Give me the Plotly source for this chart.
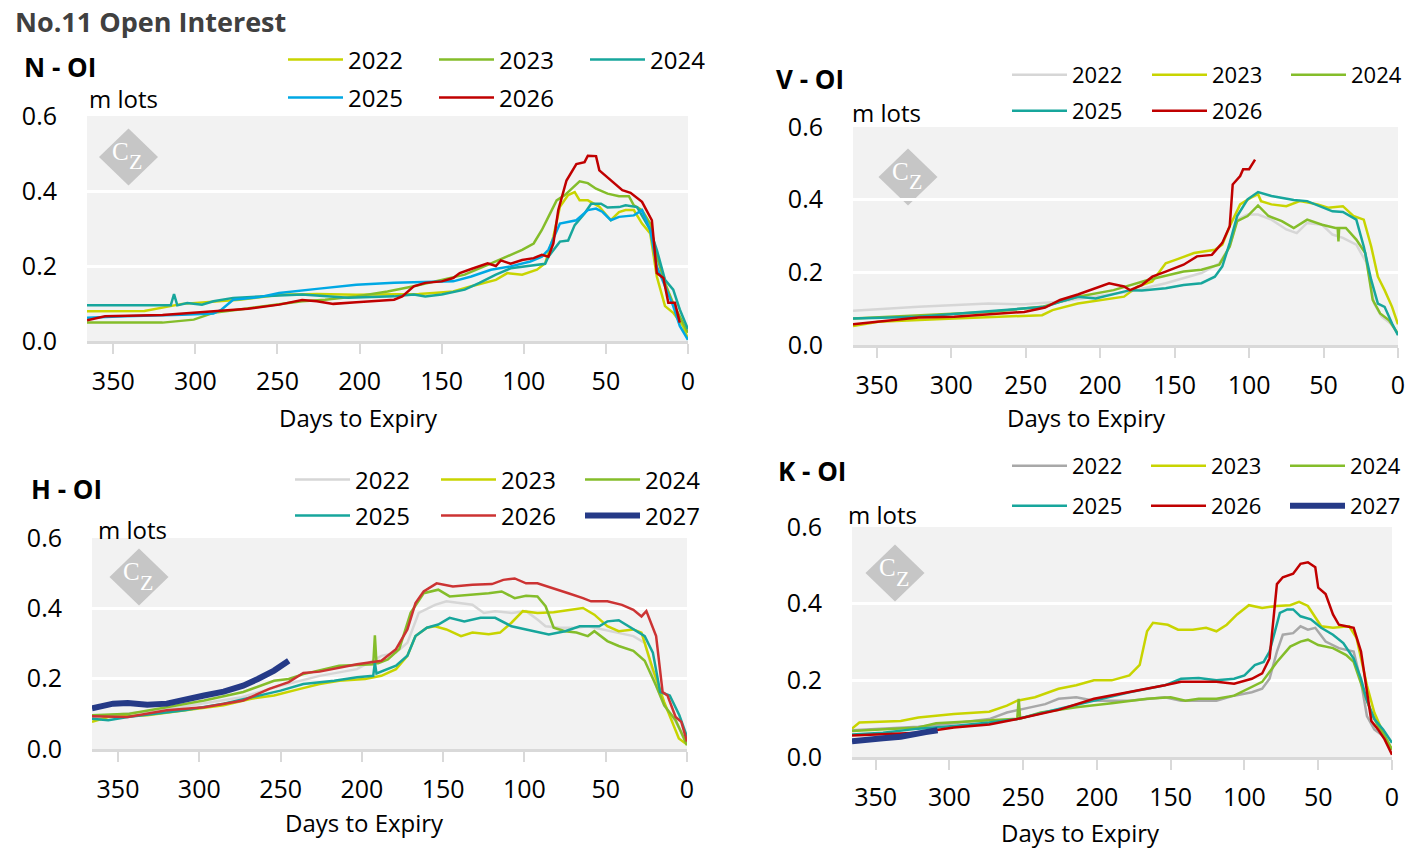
import plotly.graph_objects as go

# ---------------- data (days to expiry, open interest in m lots) ----------------
# N - OI
N_DAYS_2022 = [366, 331, 308, 296, 273, 249, 226, 202, 179, 164, 155, 143, 132, 117, 110, 101, 92, 87, 82, 78, 73, 69, 66, 61, 54, 47, 42, 38, 33, 28, 23, 19, 14, 9, 3, 0]
N_OI_2022 = [0.079, 0.080, 0.099, 0.103, 0.110, 0.123, 0.125, 0.123, 0.125, 0.125, 0.128, 0.132, 0.146, 0.163, 0.181, 0.177, 0.190, 0.207, 0.278, 0.358, 0.389, 0.397, 0.375, 0.375, 0.358, 0.322, 0.344, 0.349, 0.349, 0.313, 0.287, 0.172, 0.093, 0.075, 0.040, 0.004]
N_DAYS_2023 = [366, 320, 301, 289, 273, 249, 235, 221, 202, 183, 167, 150, 136, 122, 113, 101, 94, 89, 85, 80, 75, 70, 66, 61, 56, 49, 42, 36, 33, 28, 23, 19, 14, 9, 3, 0]
N_OI_2023 = [0.049, 0.049, 0.057, 0.075, 0.084, 0.097, 0.106, 0.110, 0.119, 0.132, 0.146, 0.163, 0.177, 0.203, 0.221, 0.243, 0.260, 0.296, 0.331, 0.375, 0.389, 0.410, 0.426, 0.421, 0.406, 0.393, 0.386, 0.386, 0.362, 0.349, 0.313, 0.225, 0.155, 0.100, 0.049, 0.022]
N_DAYS_2024 = [366, 315, 313, 311, 305, 296, 289, 277, 249, 235, 207, 179, 167, 160, 150, 136, 127, 117, 108, 96, 87, 85, 78, 73, 69, 63, 59, 53, 49, 42, 38, 31, 23, 19, 14, 9, 5, 0]
N_OI_2024 = [0.095, 0.095, 0.125, 0.095, 0.101, 0.097, 0.106, 0.115, 0.121, 0.124, 0.115, 0.119, 0.124, 0.119, 0.124, 0.137, 0.155, 0.177, 0.194, 0.200, 0.206, 0.225, 0.265, 0.268, 0.309, 0.340, 0.366, 0.366, 0.356, 0.357, 0.362, 0.357, 0.296, 0.243, 0.163, 0.137, 0.084, 0.031]
N_DAYS_2025 = [366, 343, 308, 289, 284, 277, 261, 249, 226, 202, 179, 155, 143, 132, 120, 108, 96, 89, 85, 78, 68, 61, 56, 52, 47, 42, 33, 28, 23, 19, 14, 9, 5, 0]
N_OI_2025 = [0.062, 0.066, 0.070, 0.073, 0.084, 0.110, 0.117, 0.128, 0.139, 0.150, 0.155, 0.159, 0.159, 0.172, 0.190, 0.199, 0.212, 0.225, 0.243, 0.313, 0.322, 0.349, 0.353, 0.344, 0.322, 0.331, 0.335, 0.349, 0.296, 0.199, 0.146, 0.093, 0.040, 0.003]
N_DAYS_2026 = [366, 355, 320, 287, 268, 249, 235, 226, 216, 202, 179, 174, 167, 160, 150, 143, 139, 132, 122, 117, 114, 108, 101, 94, 89, 85, 82, 79, 74, 68, 63, 61, 56, 54, 47, 40, 35, 28, 22, 19, 15, 12, 8, 5]
N_OI_2026 = [0.055, 0.066, 0.069, 0.079, 0.086, 0.097, 0.109, 0.106, 0.099, 0.103, 0.110, 0.119, 0.146, 0.155, 0.159, 0.168, 0.181, 0.192, 0.207, 0.200, 0.215, 0.206, 0.216, 0.221, 0.230, 0.225, 0.260, 0.349, 0.428, 0.472, 0.477, 0.494, 0.493, 0.455, 0.428, 0.402, 0.395, 0.371, 0.322, 0.181, 0.168, 0.102, 0.102, 0.049]

# V - OI
V_DAYS_2022 = [366, 322, 275, 251, 227, 203, 180, 156, 144, 132, 120, 113, 108, 101, 94, 85, 75, 68, 61, 51, 44, 37, 28, 21, 16, 11, 5, 0]
V_OI_2022 = [0.094, 0.105, 0.114, 0.112, 0.119, 0.133, 0.147, 0.170, 0.184, 0.198, 0.225, 0.271, 0.345, 0.359, 0.359, 0.345, 0.318, 0.308, 0.336, 0.331, 0.304, 0.295, 0.276, 0.225, 0.114, 0.078, 0.059, 0.031]
V_DAYS_2023 = [366, 349, 298, 263, 239, 232, 215, 184, 175, 165, 161, 156, 149, 137, 123, 118, 113, 106, 99, 94, 92, 85, 75, 66, 54, 47, 37, 30, 23, 18, 13.5, 9, 4, 0]
V_OI_2023 = [0.052, 0.064, 0.073, 0.078, 0.082, 0.096, 0.114, 0.133, 0.161, 0.175, 0.198, 0.225, 0.235, 0.253, 0.262, 0.276, 0.327, 0.387, 0.405, 0.415, 0.396, 0.387, 0.382, 0.396, 0.387, 0.378, 0.382, 0.355, 0.345, 0.271, 0.188, 0.151, 0.105, 0.057]
V_DAYS_2024 = [366, 322, 275, 239, 215, 191, 168, 144, 132, 120, 113, 108, 101, 94, 87, 78, 70, 61, 51, 42, 40.5, 40, 39.5, 35, 28, 22, 17, 12, 6, 0]
V_OI_2024 = [0.073, 0.082, 0.091, 0.105, 0.133, 0.151, 0.179, 0.202, 0.207, 0.221, 0.271, 0.341, 0.355, 0.384, 0.355, 0.341, 0.322, 0.345, 0.331, 0.322, 0.322, 0.285, 0.322, 0.322, 0.290, 0.253, 0.124, 0.087, 0.068, 0.031]
V_DAYS_2025 = [366, 322, 275, 237, 227, 215, 203, 180, 172, 156, 144, 132, 123, 118, 113, 108, 101, 94, 85, 70, 61, 51, 44, 37, 28, 23, 18, 13.5, 9, 4, 0]
V_OI_2025 = [0.073, 0.078, 0.093, 0.105, 0.119, 0.133, 0.128, 0.151, 0.150, 0.156, 0.165, 0.170, 0.188, 0.216, 0.281, 0.355, 0.401, 0.421, 0.410, 0.399, 0.396, 0.380, 0.368, 0.366, 0.345, 0.271, 0.179, 0.114, 0.105, 0.059, 0.027]
V_DAYS_2026 = [366, 346, 322, 298, 275, 251, 237, 227, 215, 203, 194, 184, 180, 172, 165, 156, 144, 135, 125, 118, 113, 111, 106, 104, 100, 96]
V_OI_2026 = [0.057, 0.066, 0.076, 0.078, 0.084, 0.091, 0.103, 0.124, 0.139, 0.156, 0.170, 0.161, 0.151, 0.165, 0.188, 0.202, 0.221, 0.244, 0.248, 0.281, 0.327, 0.442, 0.465, 0.484, 0.484, 0.510]

# H - OI
H_DAYS_2022 = [366, 320, 297, 274, 250, 226, 203, 188, 179, 172, 165, 155, 148, 139, 132, 125, 118, 108, 99, 92, 87, 78, 68, 61, 52, 42, 33, 26, 19, 14, 7, 0]
H_OI_2022 = [0.091, 0.112, 0.130, 0.147, 0.180, 0.208, 0.227, 0.265, 0.274, 0.302, 0.387, 0.410, 0.420, 0.415, 0.410, 0.387, 0.392, 0.387, 0.392, 0.368, 0.349, 0.345, 0.345, 0.349, 0.340, 0.330, 0.321, 0.302, 0.180, 0.124, 0.077, 0.021]
H_DAYS_2023 = [366, 356, 332, 309, 285, 268, 254, 238, 226, 214, 198, 188, 179, 172, 167, 160, 155, 148, 139, 132, 122, 115, 108, 101, 92, 82, 73, 64, 57, 49, 42, 33, 28, 21, 14, 9, 5, 0]
H_OI_2023 = [0.077, 0.091, 0.096, 0.110, 0.124, 0.143, 0.152, 0.171, 0.185, 0.194, 0.199, 0.208, 0.227, 0.265, 0.321, 0.345, 0.349, 0.340, 0.321, 0.331, 0.326, 0.331, 0.359, 0.392, 0.387, 0.389, 0.394, 0.401, 0.382, 0.349, 0.335, 0.340, 0.331, 0.227, 0.133, 0.077, 0.030, 0.013]
H_DAYS_2024 = [366, 343, 320, 297, 273, 254, 245, 236, 214, 198, 193, 192, 191, 190, 184, 177, 170, 162, 153, 146, 134, 122, 114, 106, 99, 92, 87, 82, 75, 68, 61, 57, 49, 42, 33, 26, 19, 14, 7, 0]
H_OI_2024 = [0.096, 0.100, 0.119, 0.138, 0.162, 0.194, 0.199, 0.213, 0.237, 0.241, 0.241, 0.323, 0.244, 0.244, 0.255, 0.284, 0.387, 0.443, 0.453, 0.434, 0.438, 0.443, 0.448, 0.429, 0.436, 0.434, 0.406, 0.345, 0.335, 0.331, 0.321, 0.335, 0.307, 0.293, 0.279, 0.251, 0.180, 0.124, 0.082, 0.011]
H_DAYS_2025 = [366, 356, 344, 309, 285, 268, 250, 236, 217, 203, 194, 193, 192, 191, 179, 172, 167, 160, 153, 146, 137, 127, 118, 108, 99, 85, 75, 66, 54, 49, 42, 33, 26, 21, 16.5, 10.6, 4.7, 0]
H_OI_2025 = [0.086, 0.082, 0.091, 0.110, 0.129, 0.147, 0.166, 0.185, 0.194, 0.204, 0.208, 0.208, 0.246, 0.215, 0.237, 0.265, 0.321, 0.345, 0.354, 0.373, 0.363, 0.373, 0.373, 0.349, 0.340, 0.326, 0.335, 0.349, 0.349, 0.363, 0.366, 0.340, 0.321, 0.274, 0.162, 0.152, 0.096, 0.035]
H_DAYS_2026 = [366, 344, 320, 297, 273, 257, 245, 236, 226, 203, 188, 179, 172, 167, 162, 154, 144, 132, 120, 113, 106, 99, 92, 82, 73, 64, 59, 49, 40, 33, 28, 25, 19, 15, 12, 7, 3.5, 0]
H_OI_2026 = [0.093, 0.091, 0.110, 0.119, 0.138, 0.171, 0.190, 0.216, 0.220, 0.241, 0.251, 0.284, 0.340, 0.415, 0.448, 0.471, 0.462, 0.467, 0.469, 0.481, 0.485, 0.471, 0.471, 0.457, 0.443, 0.429, 0.420, 0.420, 0.410, 0.396, 0.377, 0.392, 0.321, 0.162, 0.152, 0.091, 0.077, 0.021]
H_DAYS_2027 = [366, 353, 344, 332, 320, 309, 297, 285, 273, 264, 254, 245]
H_OI_2027 = [0.116, 0.129, 0.131, 0.126, 0.129, 0.138, 0.152, 0.163, 0.180, 0.199, 0.223, 0.251]

# K - OI
K_DAYS_2022 = [366, 321, 297, 273, 261, 250, 235, 226, 214, 202, 178, 154, 143, 131, 119, 107, 95, 88, 83, 78, 74, 67, 62, 57, 52, 45, 36, 26, 21, 17, 12, 6, 0]
K_OI_2022 = [0.070, 0.079, 0.088, 0.099, 0.116, 0.125, 0.138, 0.152, 0.156, 0.147, 0.147, 0.156, 0.147, 0.147, 0.147, 0.160, 0.169, 0.178, 0.204, 0.275, 0.319, 0.323, 0.341, 0.332, 0.337, 0.301, 0.284, 0.275, 0.196, 0.107, 0.072, 0.055, 0.019]
K_DAYS_2023 = [366, 361, 333, 321, 297, 273, 261, 254, 242, 226, 214, 202, 190, 178, 171, 166, 162, 152, 145, 135, 126, 119, 112, 105, 97, 88, 78, 69, 63, 57, 48, 40, 29, 24, 17, 12, 6, 0]
K_OI_2023 = [0.074, 0.090, 0.094, 0.103, 0.112, 0.118, 0.134, 0.147, 0.156, 0.178, 0.187, 0.200, 0.200, 0.213, 0.240, 0.328, 0.350, 0.345, 0.332, 0.332, 0.337, 0.328, 0.345, 0.372, 0.396, 0.389, 0.394, 0.396, 0.405, 0.394, 0.341, 0.337, 0.341, 0.310, 0.187, 0.116, 0.063, 0.019]
K_DAYS_2024 = [366, 321, 309, 285, 261, 254, 253, 252, 238, 214, 190, 166, 150, 140, 131, 119, 107, 97, 88, 78, 69, 62, 57, 50, 40, 31, 26, 19, 14, 9.5, 5, 0]
K_OI_2024 = [0.068, 0.077, 0.088, 0.094, 0.100, 0.100, 0.152, 0.100, 0.116, 0.130, 0.140, 0.152, 0.156, 0.147, 0.152, 0.152, 0.160, 0.178, 0.196, 0.248, 0.288, 0.301, 0.306, 0.292, 0.284, 0.266, 0.248, 0.169, 0.116, 0.081, 0.055, 0.019]
K_DAYS_2025 = [366, 345, 321, 297, 273, 254, 226, 202, 178, 154, 143, 131, 119, 107, 100, 93, 87, 83, 76, 71, 67, 62, 55, 48, 40, 33, 26, 21, 17, 12, 6, 0]
K_OI_2025 = [0.059, 0.063, 0.074, 0.081, 0.090, 0.099, 0.125, 0.147, 0.169, 0.187, 0.204, 0.206, 0.200, 0.204, 0.213, 0.240, 0.248, 0.275, 0.376, 0.385, 0.385, 0.367, 0.359, 0.337, 0.319, 0.297, 0.257, 0.204, 0.147, 0.099, 0.072, 0.037]
K_DAYS_2026 = [366, 345, 321, 297, 273, 254, 226, 202, 178, 154, 143, 131, 119, 107, 95, 88, 83, 78, 74, 67, 62, 57, 52, 50, 45, 40, 36, 31, 26, 21, 14, 9.5, 5, 0]
K_OI_2026 = [0.056, 0.059, 0.063, 0.077, 0.085, 0.099, 0.123, 0.152, 0.169, 0.187, 0.196, 0.196, 0.196, 0.191, 0.204, 0.218, 0.257, 0.451, 0.469, 0.478, 0.504, 0.508, 0.495, 0.442, 0.425, 0.372, 0.345, 0.341, 0.337, 0.275, 0.094, 0.072, 0.046, 0.006]
K_DAYS_2027 = [366, 356, 345, 333, 326, 316, 308]
K_OI_2027 = [0.041, 0.046, 0.049, 0.053, 0.059, 0.065, 0.070]

X_TICKS = [350, 300, 250, 200, 150, 100, 50, 0]
Y_TICKS = [0.0, 0.2, 0.4, 0.6]

# ---------------- styling ----------------
W, H = 1427, 860
FONT = "Open Sans"
C_YEL = "#c8d400"
C_GRN = "#84bd2a"
C_TEAL = "#17a69c"
C_BLUE = "#00a8e4"
C_RED = "#c00000"
C_RED2 = "#cc3333"
C_LGRAY = "#d6d6d6"
C_GRAY = "#a8a8a8"
C_NAVY = "#253a87"


def px_x(v):
    return v / W


def px_y(v):
    return 1 - v / H


# panel geometry in pixels: plot box (left, right, top, bottom),
# legend column line-starts, legend row centres, legend font size
PANELS = {
    "N": dict(box=(87, 688, 116, 341), axis=("x", "y"),
              cols=(288, 439, 590), rows=(60, 98), leg_font=24),
    "V": dict(box=(853, 1398, 127, 345), axis=("x2", "y2"),
              cols=(1012, 1152, 1291), rows=(75, 111), leg_font=22),
    "H": dict(box=(92, 687, 538, 749), axis=("x3", "y3"),
              cols=(295, 441, 585), rows=(480, 516), leg_font=24),
    "K": dict(box=(852, 1392, 527, 757), axis=("x4", "y4"),
              cols=(1012, 1151, 1290), rows=(466, 506), leg_font=22),
}

SERIES = {
    "N": [("2022", N_DAYS_2022, N_OI_2022, C_YEL, 2.5),
          ("2023", N_DAYS_2023, N_OI_2023, C_GRN, 2.5),
          ("2024", N_DAYS_2024, N_OI_2024, C_TEAL, 2.5),
          ("2025", N_DAYS_2025, N_OI_2025, C_BLUE, 2.5),
          ("2026", N_DAYS_2026, N_OI_2026, C_RED, 2.5)],
    "V": [("2022", V_DAYS_2022, V_OI_2022, C_LGRAY, 2.5),
          ("2023", V_DAYS_2023, V_OI_2023, C_YEL, 2.5),
          ("2024", V_DAYS_2024, V_OI_2024, C_GRN, 2.5),
          ("2025", V_DAYS_2025, V_OI_2025, C_TEAL, 2.5),
          ("2026", V_DAYS_2026, V_OI_2026, C_RED, 2.5)],
    "H": [("2022", H_DAYS_2022, H_OI_2022, C_LGRAY, 2.5),
          ("2023", H_DAYS_2023, H_OI_2023, C_YEL, 2.5),
          ("2024", H_DAYS_2024, H_OI_2024, C_GRN, 2.5),
          ("2025", H_DAYS_2025, H_OI_2025, C_TEAL, 2.5),
          ("2026", H_DAYS_2026, H_OI_2026, C_RED2, 2.5),
          ("2027", H_DAYS_2027, H_OI_2027, C_NAVY, 6)],
    "K": [("2022", K_DAYS_2022, K_OI_2022, C_GRAY, 2.5),
          ("2023", K_DAYS_2023, K_OI_2023, C_YEL, 2.5),
          ("2024", K_DAYS_2024, K_OI_2024, C_GRN, 2.5),
          ("2025", K_DAYS_2025, K_OI_2025, C_TEAL, 2.5),
          ("2026", K_DAYS_2026, K_OI_2026, C_RED, 2.5),
          ("2027", K_DAYS_2027, K_OI_2027, C_NAVY, 6)],
}

fig = go.Figure()
layout = dict(
    width=W, height=H, autosize=False,
    margin=dict(l=0, r=0, t=0, b=0, pad=0, autoexpand=False),
    paper_bgcolor="white", plot_bgcolor="#f2f2f2",
    font=dict(family=FONT, color="#000000"),
    showlegend=True,
)

shapes = []
annotations = []
legend_no = 0

for key, p in PANELS.items():
    l, r, t, b = p["box"]
    xa, ya = p["axis"]
    xname = "xaxis" + xa[1:]
    yname = "yaxis" + ya[1:]
    layout[xname] = dict(
        domain=[px_x(l), px_x(r)], anchor=ya, range=[366, 0],
        tickvals=X_TICKS, ticks="outside", ticklen=10, tickwidth=2,
        tickcolor="#d9d9d9", showline=True, linecolor="#d9d9d9", linewidth=3,
        showgrid=False, zeroline=False, tickfont=dict(size=25, color="#000"),
        ticklabelstandoff=6, fixedrange=True, automargin=False,
    )
    layout[yname] = dict(
        domain=[px_y(b), px_y(t)], anchor=xa, range=[0, 0.6],
        tickvals=Y_TICKS, tickformat=".1f", ticks="", showgrid=True,
        gridcolor="white", gridwidth=3, zeroline=False, showline=False,
        tickfont=dict(size=25, color="#000"), ticklabelstandoff=29,
        fixedrange=True, automargin=False,
    )
    for i, (name, days, oi, col, lw) in enumerate(SERIES[key]):
        legend_no += 1
        lid = "legend" if legend_no == 1 else "legend%d" % legend_no
        cx = p["cols"][i % 3]
        cy = p["rows"][i // 3]
        layout[lid] = dict(
            orientation="h", x=px_x(cx - 5), y=px_y(cy), xanchor="left",
            yanchor="middle", font=dict(size=p["leg_font"], color="#000"),
            bgcolor="rgba(0,0,0,0)", itemwidth=55, borderwidth=0,
        )
        fig.add_trace(go.Scatter(
            x=days, y=oi, name=name, mode="lines",
            line=dict(color=col, width=lw), xaxis=xa, yaxis=ya,
            legend=lid, hoverinfo="skip",
        ))

# panel titles, units, axis titles
TEXTS = [("N - OI", 22, 67), ("V - OI", 774, 79), ("H - OI", 29, 489), ("K - OI", 776, 471)]
for txt, x, y in TEXTS:
    annotations.append(dict(text="<b>%s</b>" % txt, x=px_x(x), y=px_y(y),
                            xref="paper", yref="paper", xanchor="left",
                            yanchor="middle", showarrow=False,
                            font=dict(size=26, color="#000")))
for x, y in [(87, 98), (850, 112), (96, 529), (846, 514)]:
    annotations.append(dict(text="m lots", x=px_x(x), y=px_y(y), xref="paper",
                            yref="paper", xanchor="left", yanchor="middle",
                            showarrow=False, font=dict(size=24, color="#000")))
for x, y in [(358, 417), (1086, 417), (364, 822), (1080, 832)]:
    annotations.append(dict(text="Days to Expiry", x=px_x(x), y=px_y(y),
                            xref="paper", yref="paper", xanchor="center",
                            yanchor="middle", showarrow=False,
                            font=dict(size=24, color="#000")))
annotations.append(dict(text="<b>No.11 Open Interest</b>", x=px_x(13), y=px_y(22),
                        xref="paper", yref="paper", xanchor="left",
                        yanchor="middle", showarrow=False,
                        font=dict(size=27, color="#404040")))

# CZ logo watermark
for cx, cy in [(128.5, 157), (908, 177), (139, 577), (895, 573)]:
    hw, hh = 29.5, 28.5
    path = "M %f,%f L %f,%f L %f,%f L %f,%f Z" % (
        px_x(cx), px_y(cy - hh), px_x(cx + hw), px_y(cy),
        px_x(cx), px_y(cy + hh), px_x(cx - hw), px_y(cy))
    shapes.append(dict(type="path", path=path, xref="paper", yref="paper",
                       fillcolor="#c6c6c6", line=dict(width=0), layer="below"))
    annotations.append(dict(text="C", x=px_x(cx + 0.5), y=px_y(cy - 6),
                            xref="paper", yref="paper", showarrow=False,
                            xanchor="right", yanchor="middle", borderpad=0,
                            borderwidth=0,
                            font=dict(size=25, color="white", family="Liberation Serif")))
    annotations.append(dict(text="Z", x=px_x(cx + 0.5), y=px_y(cy + 5),
                            xref="paper", yref="paper", showarrow=False,
                            xanchor="left", yanchor="middle", borderpad=0,
                            borderwidth=0,
                            font=dict(size=22, color="white", family="Liberation Serif")))

layout["shapes"] = shapes
layout["annotations"] = annotations
fig.update_layout(**layout)
fig.write_html("out.html", config={"displayModeBar": False},
               post_script="document.body.style.margin='0px';")
